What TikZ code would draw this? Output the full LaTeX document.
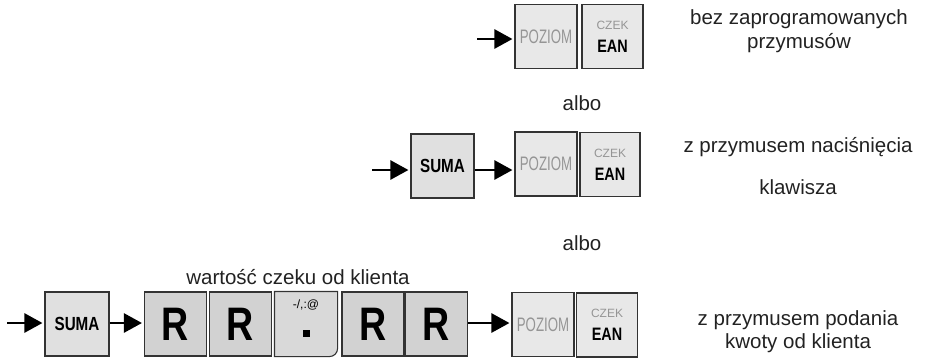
\documentclass[tikz,border=0pt]{standalone}
\usepackage{fontspec}
\setmainfont{Liberation Sans}
\newfontfamily\keyfont[FakeStretch=0.8]{Liberation Sans}
\newfontfamily\narrowfont[FakeStretch=0.68]{Liberation Sans}
\usepackage{tikz}
\usetikzlibrary{arrows.meta,positioning}
\definecolor{KeyBorder}{HTML}{333333}
\definecolor{KeyLight}{HTML}{E8E8E8}
\definecolor{KeyMid}{HTML}{E0E0E0}
\definecolor{KeyDark}{HTML}{D2D2D2}
\definecolor{GrayLabel}{HTML}{959595}
\definecolor{BodyText}{HTML}{222222}

\begin{document}
\begin{tikzpicture}[
    x=1pt, y=-1pt,
    key/.style={
        draw=KeyBorder,
        line width=1.1pt,
        minimum width=62pt,
        minimum height=64pt,
        inner sep=0pt,
        align=center,
    },
    pozkey/.style={
        key,
        fill=KeyLight,
        font=\narrowfont\fontsize{19.5}{20}\selectfont,
        text=GrayLabel,
    },
    eankey/.style={
        key,
        fill=KeyLight,
        font=\fontsize{12}{23}\selectfont,
    },
    sumakey/.style={
        key,
        fill=KeyMid,
        font=\keyfont\bfseries\fontsize{19}{20}\selectfont,
    },
    rkey/.style={
        key,
        fill=KeyDark,
        font=\keyfont\bfseries\fontsize{47}{48}\selectfont,
    },
    keyarrow/.style={
        -{Triangle[length=18pt,width=19pt]},
        line width=2.6pt,
        shorten >=2pt,
        color=black,
    },
    note/.style={
        font=\fontsize{20.5}{24.5}\selectfont,
        text=BodyText,
        align=center,
    },
]
\useasboundingbox (0,0) rectangle (928,360);

\newcommand{\ean}{{\color{GrayLabel}CZEK}\\{\keyfont\bfseries\fontsize{18}{23}\selectfont EAN}}

% first way
\coordinate (start1) at (477,39);
\node[pozkey] (poz1) at (546,36.5) {POZIOM};
\node[eankey,minimum width=61pt] (ean1) at (612.5,36.5) {\ean};
\draw[keyarrow] (start1) -- (poz1.west |- start1);
\node[note] (txt1) at (799,31) {bez zaprogramowanych\\przymusów};

\node[note] (albo1) at (582,103) {albo};

% second way
\coordinate (start2) at (372,170);
\node[sumakey,minimum width=63pt] (suma2) at (442.5,166) {SUMA};
\node[pozkey] (poz2) at (546,164) {POZIOM};
\node[eankey,minimum width=60pt] (ean2) at (610,164.5) {\ean};
\draw[keyarrow] (start2) -- (suma2.west |- start2);
\draw[keyarrow] (suma2.east |- start2) -- (poz2.west |- start2);
\node[note] (txt2a) at (798,147) {z przymusem naciśnięcia};
\node[note] (txt2b) at (798,187) {klawisza};

\node[note] (albo2) at (582,243) {albo};

% third way
\coordinate (start3) at (7,323);
\node[sumakey,minimum width=64pt] (suma3) at (77,324) {SUMA};
\node[rkey] (r1) at (175.5,324) {R};
\node[rkey] (r2) at (240.5,324) {R};
\node[key,draw=none] (dot) at (306,324) {};
\draw[fill=KeyDark!85!white,draw=KeyBorder,line width=1.1pt]
    (dot.north west) -- (dot.north east) -- ([yshift=8pt]dot.south east)
    arc[start angle=0,end angle=-90,radius=8pt] -- (dot.south west) -- cycle;
\node[font=\fontsize{12}{13}\selectfont] (dotsym) at (306,305) {-/,:@};
\node[fill=black,minimum size=7pt,inner sep=0pt] (dotsq) at (306,333) {};
\node[rkey] (r3) at (373,324) {R};
\node[rkey] (r4) at (436.5,324) {R};
\node[pozkey] (poz3) at (543,324.5) {POZIOM};
\node[eankey,minimum width=61pt] (ean3) at (607,325) {\ean};
\draw[keyarrow] (start3) -- (suma3.west |- start3);
\draw[keyarrow] (suma3.east |- start3) -- (r1.west |- start3);
\draw[keyarrow] (r4.east |- start3) -- (poz3.west |- start3);
\node[note] (txt3top) at (298,277) {wartość czeku od klienta};
\node[note,font=\fontsize{20.5}{23}\selectfont] (txt3) at (798,331.5) {z przymusem podania\\kwoty od klienta};
\end{tikzpicture}
\end{document}
